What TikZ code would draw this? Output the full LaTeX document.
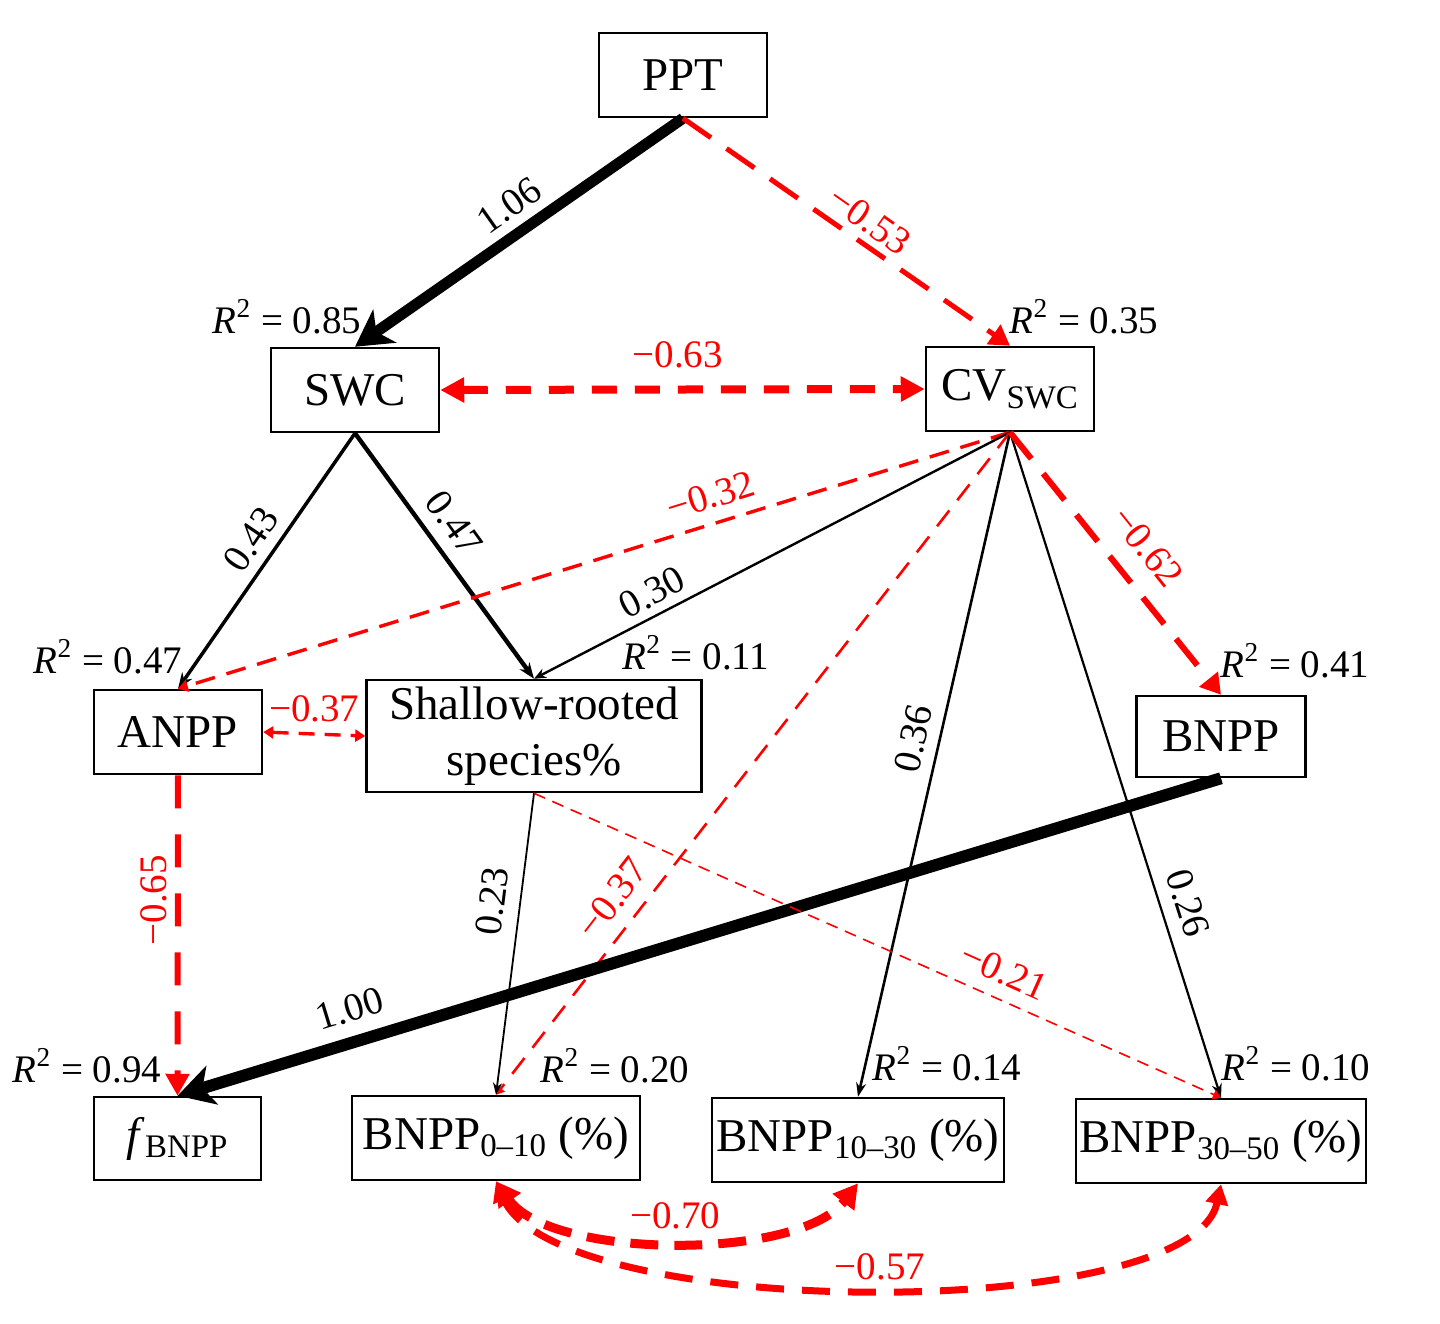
\documentclass[tikz,border=0pt]{standalone}
\usepackage{fontspec}
\setmainfont{Liberation Serif}
\usetikzlibrary{arrows.meta}

\definecolor{pathneg}{RGB}{255,0,0}

\tikzset{every picture/.style={line width=0.75pt}}
\tikzset{
  box/.style={draw, line width=1.25pt, inner sep=0pt, align=center,
    font=\fontsize{23.5}{28}\selectfont},
  rsq/.style={anchor=base, inner sep=0pt, font=\fontsize{19.5}{21}\selectfont},
  coef/.style={anchor=south, inner sep=2pt, font=\fontsize{19.5}{21}\selectfont},
  pospath/.style={draw=black},
  negpath/.style={draw=pathneg, text=pathneg},
}
\newcommand{\rsqtext}[1]{\textit{R}\textsuperscript{2} = #1}

\begin{document}
\begin{tikzpicture}[x=0.5pt,y=0.5pt,yscale=-1,xscale=1]
\useasboundingbox (0,0) rectangle (1440,1323);

% Boxes
\node[box, minimum width=84pt, minimum height=42pt] (PPT) at (683,75) {PPT};
\node[box, minimum width=84pt, minimum height=42pt] (SWC) at (355,390) {SWC};
\node[box, minimum width=84pt, minimum height=42pt] (CV) at (1010,389) {CV\textsubscript{SWC}};
\node[box, minimum width=84pt, minimum height=42pt] (ANPP) at (178,732) {ANPP};
\node[box, minimum width=167.5pt, minimum height=56pt] (Shallow) at (534,736) {Shallow-rooted\\species\%};
\node[box, minimum width=84.5pt, minimum height=40.5pt] (BNPP) at (1221,736.5) {BNPP};
\node[box, minimum width=83.5pt, minimum height=41.5pt] (fBNPP) at (177.5,1138.5) {\textit{f}\textsubscript{BNPP}};
\node[box, minimum width=144pt, minimum height=42pt] (B010) at (496,1138) {BNPP\textsubscript{0–10} (\%)};
\node[box, minimum width=146pt, minimum height=42pt] (B1030) at (858,1140) {BNPP\textsubscript{10–30} (\%)};
\node[box, minimum width=145pt, minimum height=42pt] (B3050) at (1221,1141) {BNPP\textsubscript{30–50} (\%)};

% R2 Text Nodes
\node[rsq] (rSWC) at (287,333) {\rsqtext{0.85}};
\node[rsq] (rCV) at (1084,333) {\rsqtext{0.35}};
\node[rsq] (rANPP) at (108,673) {\rsqtext{0.47}};
\node[rsq] (rShallow) at (696,669) {\rsqtext{0.11}};
\node[rsq] (rBNPP) at (1295,677) {\rsqtext{0.41}};
\node[rsq] (rfBNPP) at (87,1082) {\rsqtext{0.94}};
\node[rsq] (rB010) at (615,1082) {\rsqtext{0.20}};
\node[rsq] (rB1030) at (947,1080) {\rsqtext{0.14}};
\node[rsq] (rB3050) at (1296,1080) {\rsqtext{0.10}};

% Paths from PPT
\draw[pospath, line width=5.5pt, -{Stealth[length=18pt,width=20pt,inset=5pt]}] (PPT.south) -- (SWC.north) node[coef, pos=0.48, rotate=35.2, inner sep=4.6pt] (l106) {1.06};
\draw[negpath, line width=2.5pt, dash pattern=on 17pt off 9.5pt, -{Triangle[length=10pt,width=11.5pt]}] (PPT.south) -- (CV.north) node[coef, pos=0.53, rotate=-35.1, inner sep=3.5pt] (l053) {−0.53};

% SWC and CV
\draw[negpath, line width=4pt, dash pattern=on 12.5pt off 9pt, {Triangle[length=12pt,width=12pt]}-{Triangle[length=12pt,width=12pt]}] (SWC.east) -- (CV.west) node[coef, pos=0.49, inner sep=8.5pt] (l063) {−0.63};

% Paths from SWC
\draw[pospath, line width=1.75pt, -{Stealth[length=8pt,width=6pt]}] (SWC.south) -- (ANPP.north) node[coef, pos=0.47, rotate=55.8, inner sep=5.2pt] (l043) {0.43};
\draw[pospath, line width=2.2pt, -{Stealth[length=8pt,width=6pt]}] (SWC.south) -- (Shallow.north) node[coef, pos=0.43, rotate=-54.2, inner sep=6pt] (l047) {0.47};

% Paths from CV
\draw[negpath, line width=1.7pt, dash pattern=on 10pt off 6pt, -{Triangle[length=5pt,width=6pt]}] (CV.south) -- (ANPP.north) node[coef, pos=0.35, rotate=17.3, inner sep=6.3pt] (l032) {−0.32};
\draw[pospath, line width=1.2pt, -{Stealth[length=6pt,width=5pt]}] (CV.south) -- (Shallow.north) node[coef, pos=0.73, rotate=27.5, inner sep=4pt] (l030) {0.30};
\draw[negpath, line width=1.3pt, dash pattern=on 10pt off 6.5pt, -{Triangle[length=4pt,width=5pt]}] (CV.south) -- (B010.north) node[coef, pos=0.73, rotate=52.3, inner sep=7pt] (l037b) {−0.37};
\draw[pospath, line width=1.3pt, -{Stealth[length=7pt,width=5pt]}] (CV.south) -- (B1030.north) node[coef, pos=0.47, rotate=77.1, inner sep=5.7pt] (l036) {0.36};
\draw[pospath, line width=1.1pt, -{Stealth[length=7pt,width=5pt]}] (CV.south) -- (B3050.north) node[coef, pos=0.72, rotate=-72.4, inner sep=6.4pt] (l026) {0.26};
\draw[negpath, line width=3pt, dash pattern=on 17pt off 9.5pt, -{Triangle[length=10pt,width=11.5pt]}] (CV.south) -- (BNPP.north) node[coef, pos=0.52, rotate=-51.4, inner sep=9.5pt] (l062) {−0.62};

% ANPP and Shallow-rooted
\draw[negpath, line width=1.7pt, dash pattern=on 8pt off 5pt, {Triangle[length=5pt,width=6pt]}-{Triangle[length=5pt,width=6pt]}] (ANPP.east) -- (Shallow.west) node[coef, pos=0.5, inner sep=5pt] (l037a) {−0.37};
\draw[negpath, line width=3pt, dash pattern=on 16.5pt off 13pt, -{Triangle[length=11pt,width=11.5pt]}] (ANPP.south) -- (fBNPP.north) node[coef, pos=0.39, rotate=90, inner sep=4pt] (l065) {−0.65};
\draw[pospath, line width=6pt, -{Stealth[length=18pt,width=20pt,inset=5pt]}] (BNPP.south) -- (fBNPP.north) node[coef, pos=0.826, rotate=17.0, inner sep=7pt] (l100) {1.00};
\draw[pospath, line width=0.9pt, -{Stealth[length=6pt,width=4.5pt]}] (Shallow.south) -- (B010.north) node[coef, pos=0.37, rotate=82.9, inner sep=7pt] (l023) {0.23};
\draw[negpath, line width=0.8pt, dash pattern=on 6pt off 4pt, -{Triangle[length=4pt,width=5pt]}] (Shallow.south) -- (B3050.north) node[coef, pos=0.668, rotate=-24.1, inner sep=6.8pt] (l021) {−0.21};

% Curved covariances between layers
\draw[negpath, line width=4.5pt, dash pattern=on 14pt off 8pt, {Triangle[length=12pt,width=13pt]}-{Triangle[length=12pt,width=13pt]}] (B010.south) .. controls +(55,78) and +(-60,78) .. (B1030.south) node[coef, pos=0.5, inner sep=3.5pt] (l070) {−0.70};
\draw[negpath, line width=3.5pt, dash pattern=on 14pt off 9pt, {Triangle[length=10pt,width=11pt]}-{Triangle[length=10pt,width=11pt]}] (B010.south) .. controls +(60,140) and +(-30,140) .. (B3050.south) node[coef, pos=0.51, inner sep=2pt] (l057) {−0.57};

\end{tikzpicture}
\end{document}
